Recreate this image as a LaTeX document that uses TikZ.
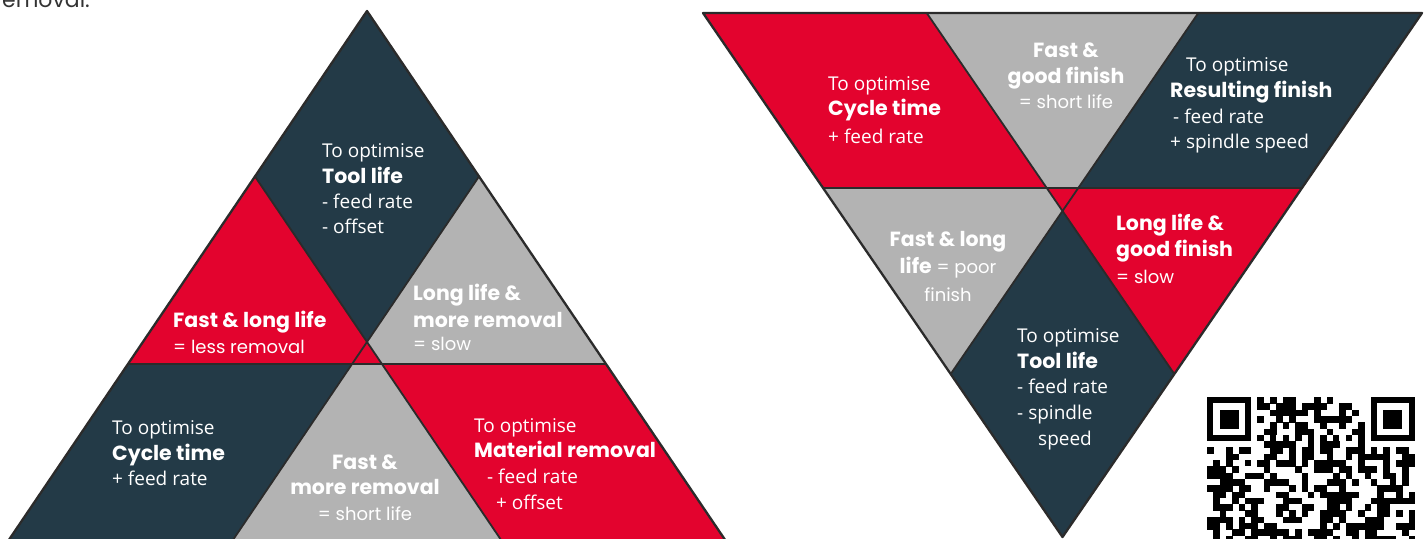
\documentclass[tikz,border=0pt]{standalone}
\usepackage{fontspec}
\newfontfamily\apt{Open Sans}
\newfontfamily\mont{Poppins}
\definecolor{dk}{HTML}{233A47}
\definecolor{rd}{HTML}{E3032E}
\definecolor{gy}{HTML}{B3B3B3}
\definecolor{ln}{HTML}{2B2B2B}
\tikzset{
  reg/.style={anchor=base west, text=white, font=\apt\fontsize{19}{19}\selectfont, inner sep=0pt},
  bld/.style={anchor=base west, text=white, font=\mont\bfseries\fontsize{20.5}{20.5}\selectfont, inner sep=0pt},
  mreg/.style={anchor=base west, text=white, font=\mont\fontsize{18}{18}\selectfont, inner sep=0pt},
  bldc/.style={bld, anchor=base},
  mregc/.style={mreg, anchor=base},
  edge/.style={draw=ln, line width=2.3pt, line join=round},
  inner/.style={draw=ln, line width=1.8pt},
}
\begin{document}
\begin{tikzpicture}[x=1pt,y=-1pt]
\useasboundingbox (0,0) rectangle (1426,538);
\clip (0,0) rectangle (1426,538);
% ---------- left triangle ----------
\coordinate (A) at (367,11);
\coordinate (P1) at (255,176.5);
\coordinate (P2) at (479,176.5);
\coordinate (C) at (367,342);
\coordinate (Q1) at (128,364);
\coordinate (Q2) at (352.1,364);
\coordinate (Q3) at (381.9,364);
\coordinate (Q4) at (606,364);
\coordinate (B1) at (3.4,548);
\coordinate (B2) at (227.5,548);
\coordinate (B3) at (506.5,548);
\coordinate (B4) at (730.6,548);
\fill[dk] (A) -- (P1) -- (C) -- (P2) -- cycle;
\fill[rd] (P1) -- (Q1) -- (Q3) -- cycle;
\fill[gy] (P2) -- (C) -- (Q3) -- (Q4) -- cycle;
\fill[dk] (Q1) -- (Q2) -- (B2) -- (B1) -- cycle;
\fill[gy] (Q2) -- (Q3) -- (B3) -- (B2) -- cycle;
\fill[rd] (Q3) -- (Q4) -- (B4) -- (B3) -- cycle;
\draw[inner] (Q1) -- (Q4);
\draw[inner] (P1) -- (B3);
\draw[inner] (P2) -- (B2);
\draw[edge] (B1) -- (A) -- (B4);
% ---------- right triangle ----------
\coordinate (TL) at (703,13);
\coordinate (T2) at (926.7,13);
\coordinate (T3) at (1198.3,13);
\coordinate (TR) at (1422,13);
\coordinate (M1) at (823,188);
\coordinate (M2) at (1046.7,188);
\coordinate (M3) at (1078.3,188);
\coordinate (M4) at (1302,188);
\coordinate (Cp) at (1062.5,211);
\coordinate (R1) at (950.7,374);
\coordinate (R2) at (1174.3,374);
\coordinate (Bt) at (1062.5,537);
\fill[rd] (TL) -- (T2) -- (M2) -- (M1) -- cycle;
\fill[gy] (T2) -- (T3) -- (M3) -- (M2) -- cycle;
\fill[dk] (T3) -- (TR) -- (M4) -- (M3) -- cycle;
\fill[gy] (M1) -- (M2) -- (Cp) -- (R1) -- cycle;
\fill[rd] (M2) -- (M4) -- (R2) -- cycle;
\fill[dk] (Cp) -- (R2) -- (Bt) -- (R1) -- cycle;
\draw[inner] (M1) -- (M4);
\draw[inner] (T2) -- (R2);
\draw[inner] (T3) -- (R1);
\draw[edge] (TL) -- (TR) -- (Bt) -- cycle;
% ---------- texts, left ----------
\node[mreg, text=black!80, font=\mont\fontsize{22}{22}\selectfont, anchor=base east] (top) at (90,8) {removal.};
\node[reg] (a1) at (322,157) {To optimise};
\node[bld] (a2) at (322,183) {Tool life};
\node[reg] (a3) at (322,208) {- feed rate};
\node[reg] (a4) at (322,233) {- offset};
\node[bld] (b1) at (173,327) {Fast \& long life};
\node[mreg] (b2) at (173,353) {= less removal};
\node[bld] (c1) at (413,300) {Long life \&};
\node[bld] (c2) at (413,327) {more removal};
\node[mreg] (c3) at (413,350) {= slow};
\node[reg] (d1) at (112,434) {To optimise};
\node[bld] (d2) at (112,460) {Cycle time};
\node[reg] (d3) at (112,485) {+ feed rate};
\node[bldc] (e1) at (365,469) {Fast \&};
\node[bldc] (e2) at (365,494) {more removal};
\node[mregc] (e3) at (365,520) {= short life};
\node[reg] (f1) at (474,432) {To optimise};
\node[bld] (f2) at (474,457) {Material removal};
\node[reg] (f3) at (487,483) {- feed rate};
\node[reg] (f4) at (496,509) {+ offset};
% ---------- texts, right ----------
\node[reg] (g1) at (828,90) {To optimise};
\node[bld] (g2) at (828,115) {Cycle time};
\node[reg] (g3) at (828,143) {+ feed rate};
\node[bldc] (h1) at (1066,57) {Fast \&};
\node[bldc] (h2) at (1066,83) {good finish};
\node[mregc] (h3) at (1066,108) {= short life};
\node[reg] (i1) at (1186,71) {To optimise};
\node[bld] (i2) at (1170,97) {Resulting finish};
\node[reg] (i3) at (1173,123) {- feed rate};
\node[reg] (i4) at (1170,148) {+ spindle speed};
\node[bldc] (j1) at (948,246) {Fast \& long};
\node[mregc] (j2) at (948,273) {{\bfseries\fontsize{20.5}{20.5}\selectfont life} = poor};
\node[mregc] (j3) at (948,301) {finish};
\node[bld] (k1) at (1116,230) {Long life \&};
\node[bld] (k2) at (1116,256) {good finish};
\node[mreg] (k3) at (1116,283) {= slow};
\node[reg] (l1) at (1017,342) {To optimise};
\node[bld] (l2) at (1017,368) {Tool life};
\node[reg] (l3) at (1017,393) {- feed rate};
\node[reg] (l4) at (1017,419) {- spindle};
\node[reg] (l5) at (1038,445) {speed};
% ---------- QR code (33 modules, top part visible) ----------
\def\qx{1207}\def\qy{397}\def\qm{6.3}
\pgfmathsetseed{11}
\foreach \i in {0,...,32}{
  \foreach \j in {0,...,23}{
    \pgfmathtruncatemacro{\r}{rnd<0.5 ? 1 : 0}
    \pgfmathtruncatemacro{\fz}{((\i<8 && \j<8) || (\i>24 && \j<8) || \i==6 || \j==6) ? 1 : 0}
    \ifnum\fz=0 \ifnum\r=1
      \fill[black] (\qx+\i*\qm,\qy+\j*\qm) rectangle ++(\qm+0.3,\qm+0.3);
    \fi\fi
  }
}
% timing patterns
\foreach \k in {8,10,...,24}{
  \fill[black] (\qx+\k*\qm,\qy+6*\qm) rectangle ++(\qm,\qm);
}
\foreach \k in {8,10,...,22}{
  \fill[black] (\qx+6*\qm,\qy+\k*\qm) rectangle ++(\qm,\qm);
}
% finder patterns
\foreach \ox in {0,26}{
  \fill[black] (\qx+\ox*\qm,\qy) rectangle ++(7*\qm,7*\qm);
  \fill[white] (\qx+\ox*\qm+\qm,\qy+\qm) rectangle ++(5*\qm,5*\qm);
  \fill[black] (\qx+\ox*\qm+2*\qm,\qy+2*\qm) rectangle ++(3*\qm,3*\qm);
}
\end{tikzpicture}
\end{document}
